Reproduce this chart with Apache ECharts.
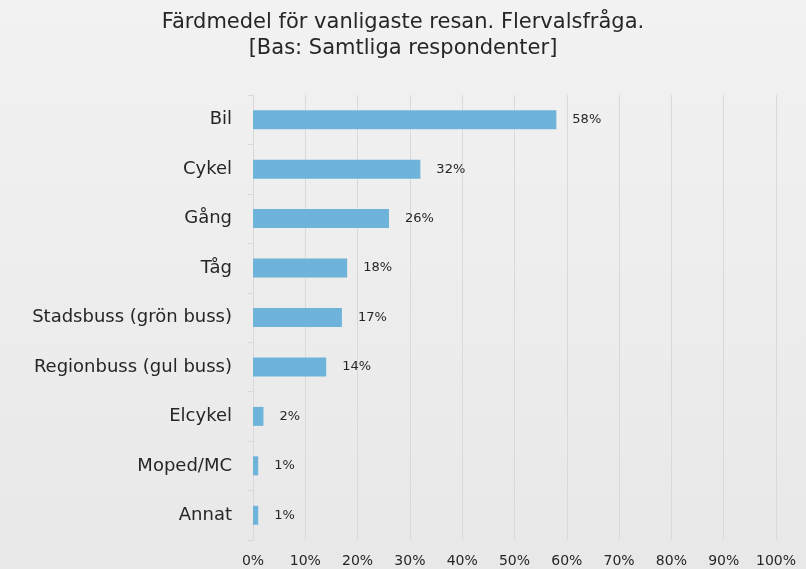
<!DOCTYPE html>
<html>
<head>
<meta charset="UTF-8">
<style>
	html, body { margin: 0; padding: 0; }
	#chart { width: 806px; height: 569px; }
</style>
</head>
<body>
	<div id="chart"></div>
	<script src="https://cdn.jsdelivr.net/npm/echarts@6/dist/echarts.min.js"></script>
<script>
	// kategorier uppifrån och ned
	var categories = ['Bil', 'Cykel', 'Gång', 'Tåg', 'Stadsbuss (grön buss)', 'Regionbuss (gul buss)', 'Elcykel', 'Moped/MC', 'Annat'];
	var values = [58, 32, 26, 18, 17, 14, 2, 1, 1];
	var titleLines = ['Färdmedel för vanligaste resan. Flervalsfråga.', '[Bas: Samtliga respondenter]'];

	var font = '"DejaVu Sans", sans-serif';
	var myChart = echarts.init(document.getElementById('chart'));
	myChart.setOption({
		animation : false,
		backgroundColor : {
			type : 'linear', x : 0, y : 0, x2 : 0, y2 : 1,
			colorStops : [ { offset : 0, color : '#f2f2f2' }, { offset : 1, color : '#e8e8e8' } ]
		},
		title : {
			text : titleLines.join('\n'),
			left : 'center',
			top : 5,
			textStyle : {
				fontFamily : font,
				fontSize : 21,
				fontWeight : 'normal',
				color : '#262626',
				lineHeight : 26
			}
		},
		grid : {
			left : 253,
			right : 30,
			top : 95,
			bottom : 29
		},
		xAxis : {
			type : 'value',
			min : 0,
			max : 100,
			interval : 10,
			axisLine : { show : false },
			axisTick : { show : false },
			splitLine : { lineStyle : { color : '#d9d9d9', width : 1 } },
			axisLabel : {
				formatter : '{value}%',
				fontFamily : font,
				fontSize : 14,
				color : '#262626',
				margin : 14
			}
		},
		yAxis : {
			type : 'category',
			inverse : true,
			data : categories,
			axisLine : { lineStyle : { color : '#d9d9d9' } },
			axisTick : { show : true, length : 5, lineStyle : { color : '#d9d9d9' } },
			axisLabel : {
				fontFamily : font,
				fontSize : 18,
				color : '#262626',
				margin : 21
			}
		},
		series : [ {
			type : 'bar',
			data : values,
			barWidth : 19,
			itemStyle : { color : '#6eb4da' },
			label : {
				show : true,
				position : 'right',
				distance : 16,
				formatter : '{c}%',
				fontFamily : font,
				fontSize : 13,
				color : '#262626'
			}
		} ]
	});
</script>
</body>
</html>
